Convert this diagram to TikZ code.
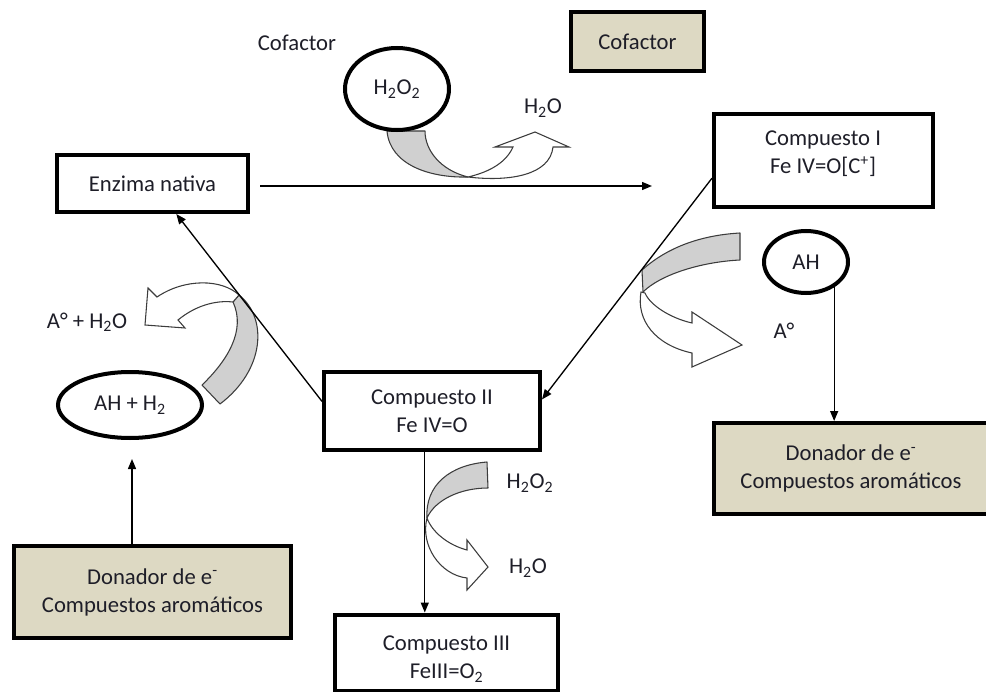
\documentclass[tikz,border=0pt]{standalone}
\usepackage{fontspec}
\setmainfont{Carlito}
\usetikzlibrary{shapes.geometric,arrows.meta,calc}
\definecolor{beige}{RGB}{221,217,195}
\definecolor{band}{RGB}{208,208,208}
\definecolor{txt}{RGB}{30,30,40}
\definecolor{edge}{RGB}{60,60,60}
\begin{document}
\begin{tikzpicture}[x=0.75pt,y=-0.75pt,
  every node/.style={font=\fontsize{17}{21}\selectfont, text=txt, align=center, inner sep=0pt},
  box/.style={draw=black, line width=3pt},
  ell/.style={ellipse, draw=black, line width=3pt},
  conn/.style={draw=black, line width=1pt, -{Triangle[length=7.5pt,width=6pt]}},
  graybend/.style={fill=band, draw=edge, line width=0.8pt, line join=round},
  whitebend/.style={fill=white, draw=edge, line width=0.8pt, line join=miter}]
\useasboundingbox (0,0) rectangle (986,692);

% block arrows (drawn first)
% top
\path[graybend] (387,131) .. controls (390,165) and (430,178) .. (468,177)
  .. controls (440,170) and (425,150) .. (425,131) -- cycle;
\path[whitebend] (468,177) .. controls (510,182) and (550,175) .. (553,147)
  -- (569,147) -- (535,132) -- (495,147) -- (513,147)
  .. controls (505,165) and (485,173) .. (468,177) -- cycle;
% right
\path[graybend] (642,270) .. controls (670,245) and (705,235) .. (740,233)
  -- (740,260) .. controls (700,262) and (660,275) .. (643,292) -- cycle;
\path[whitebend] (641,292) .. controls (636,320) and (655,345) .. (692,353)
  -- (692,367) -- (742,345) -- (692,312) -- (692,323)
  .. controls (670,318) and (650,305) .. (645,293) -- cycle;
% left
\path[graybend] (202,385) .. controls (228,360) and (246,330) .. (233,302)
  -- (239,295) .. controls (268,318) and (265,370) .. (220,404) -- cycle;
\path[whitebend] (239,295) .. controls (222,279) and (185,278) .. (157,297)
  -- (148,288) -- (145,325) -- (185,328) -- (178,320)
  .. controls (195,306) and (215,300) .. (233,302) -- cycle;
% bottom
\path[graybend] (487,462) .. controls (450,465) and (425,485) .. (427,518)
  .. controls (435,500) and (460,488) .. (488,488) -- cycle;
\path[whitebend] (427,518) .. controls (420,545) and (440,575) .. (467,578)
  -- (467,590) -- (488,567) -- (467,540) -- (467,550)
  .. controls (448,545) and (432,532) .. (427,518) -- cycle;

% boxes
\node[box, minimum width=143.25pt, minimum height=42.75pt] (enz) at (152.5,183.5) {Enzima nativa};
\node[box, minimum width=164.25pt, minimum height=69.75pt] (c1) at (823.5,160.5) {};
\node (c1t) at (823,154) {Compuesto I\\Fe IV=O[C\textsuperscript{+}]};
\node[box, minimum width=162pt, minimum height=58.5pt] (c2) at (432,411) {Compuesto II\\Fe IV=O};
\node[box, minimum width=167.25pt, minimum height=57pt] (c3) at (446.5,652.5) {};
\node (c3t) at (446.5,659) {Compuesto III\\FeIII=O\textsubscript{2}};
\node[box, fill=beige, minimum width=99.75pt, minimum height=44.25pt] (cofb) at (637.5,41.5) {Cofactor};
\node[box, fill=beige, minimum width=205.5pt, minimum height=68.25pt] (dr) at (851,468.5) {Donador de e\textsuperscript{-}\\Compuestos aromáticos};
\node[box, fill=beige, minimum width=207.75pt, minimum height=69pt] (dl) at (152.5,592) {Donador de e\textsuperscript{-}\\Compuestos aromáticos};

% ellipses
\node[ell, fill=white, minimum width=78pt, minimum height=61.5pt] (h2o2) at (397,89) {H\textsubscript{2}O\textsubscript{2}};
\node[ell, minimum width=63pt, minimum height=46.5pt] (ah) at (806,262) {AH};
\node[ell, minimum width=108pt, minimum height=49.5pt] (ahh) at (130,405) {AH + H\textsubscript{2}};

% labels
\node (cofl) at (297,43) {Cofactor};
\node (w1) at (543,108) {H\textsubscript{2}O};
\node (adot) at (784,331) {A°};
\node (aw) at (87,322) {A° + H\textsubscript{2}O};
\node (p2) at (530,483) {H\textsubscript{2}O\textsubscript{2}};
\node (w2) at (528,568) {H\textsubscript{2}O};

% connectors
\coordinate (h0) at (260,186);
\coordinate (h1) at (652,186);
\draw[conn] (h0) -- (h1);
\draw[conn] (c1.189) -- (c2.6);
\draw[conn] (c2.175) -- (enz.308);
\draw[conn] (c2.260) -- (c2.260 |- c3.north);
\draw[conn] (ah.318) -- (ah.318 |- dr.north);
\coordinate (up) at (132,459);
\draw[conn] (up |- dl.north) -- (up);
\end{tikzpicture}
\end{document}
